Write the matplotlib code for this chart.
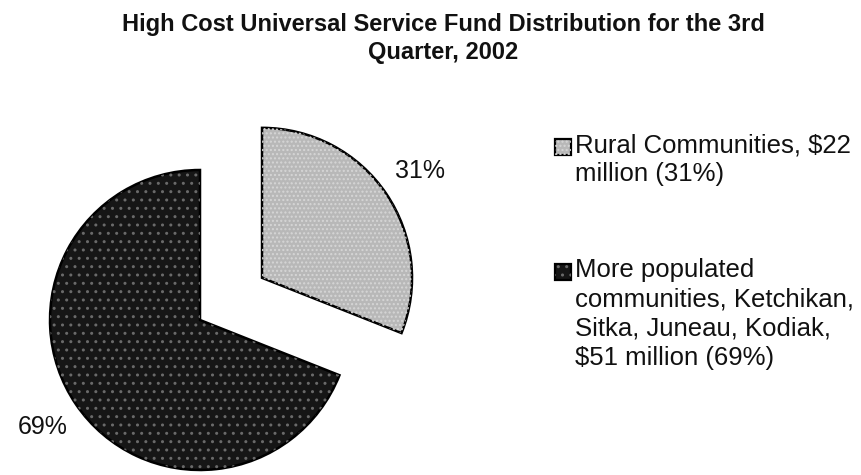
import matplotlib
matplotlib.use("Agg")
import matplotlib.pyplot as plt
from matplotlib.patches import Rectangle, Wedge

plt.rcParams['font.family'] = ['Liberation Sans', 'DejaVu Sans']

# data
labels = ["Rural Communities, $22\nmillion (31%)",
          "More populated\ncommunities, Ketchikan,\nSitka, Juneau, Kodiak,\n$51 million (69%)"]
shares = [31, 69]
face_colors = ["#b8b8b8", "#161616"]
dot_colors = ["#d6d6d6", "#6a6a6a"]
hatches = ["....", ".."]

W, H = 861, 475
fig = plt.figure(figsize=(W / 100, H / 100), dpi=100)
ax = fig.add_axes([0, 0, 1, 1])

R = 150
wedges, texts, autotexts = ax.pie(
    shares, radius=R, center=(200, H - 320), startangle=90, counterclock=False,
    explode=[75, 0], colors=face_colors, autopct='%1.0f%%', pctdistance=1.27,
    wedgeprops=dict(edgecolor='black', linewidth=1.8),
    textprops=dict(fontsize=18, color='#111111'))

# speckle texture on each slice
for w, dc, h in zip(wedges, dot_colors, hatches):
    ax.add_patch(Wedge(w.center, w.r, w.theta1, w.theta2,
                       facecolor='none', edgecolor=dc, hatch=h, linewidth=0))
    w.set_zorder(1)

ax.set_xlim(0, W)
ax.set_ylim(0, H)
ax.set_aspect('equal')
ax.axis('off')

# legend drawn by hand
legend_top = [138, 263]
for lab, fc, dc, h, top in zip(labels, face_colors, dot_colors, hatches, legend_top):
    ax.add_patch(Rectangle((555, H - top - 17), 16, 16, facecolor=fc,
                           edgecolor='black', linewidth=1.6))
    ax.add_patch(Rectangle((555, H - top - 17), 16, 16, facecolor='none',
                           edgecolor=dc, hatch=h, linewidth=0))
    ax.text(575, H - top + 5, lab, fontsize=18.5, va='top', ha='left',
            color='#111111', linespacing=1.28)

fig.text(0.515, 1 - 13 / H, "High Cost Universal Service Fund Distribution for the 3rd\nQuarter, 2002",
         ha='center', va='top', fontsize=17, fontweight='bold', color='#111111',
         linespacing=1.25)

fig.savefig("out.png", dpi=100)
